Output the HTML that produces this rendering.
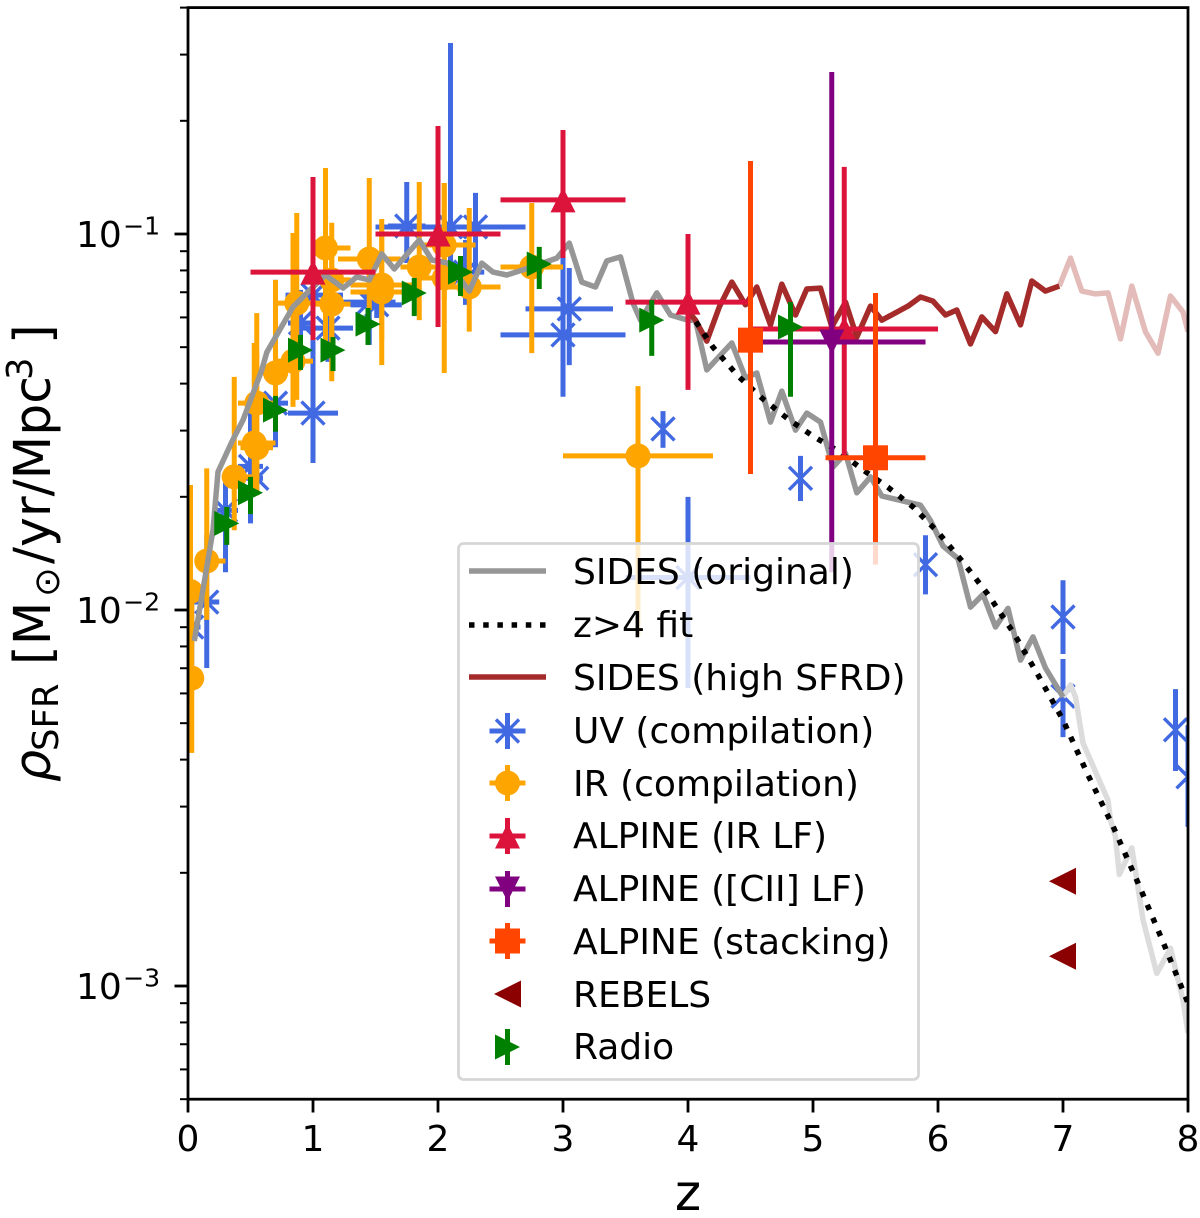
<!DOCTYPE html>
<html lang="en">
<head>
<meta charset="utf-8">
<title>Cosmic star formation rate density</title>
<style>
html,body{margin:0;padding:0;background:#fff}
svg{display:block}
text{font-family:"DejaVu Sans","Liberation Sans",sans-serif;fill:#000}
</style>
</head>
<body>
<svg id="chart" xmlns="http://www.w3.org/2000/svg" width="1200" height="1218" viewBox="0 0 1200 1218">
  <defs><clipPath id="plot-clip"><rect x="188" y="7.6" width="1000" height="1091.6"/></clipPath></defs>
  <rect width="1200" height="1218" fill="#fff"/>
  <g id="marks" clip-path="url(#plot-clip)"></g>
  <g id="legend">
    <rect x="458.5" y="543.5" width="460" height="536" rx="5" fill="#fff" fill-opacity="0.8" stroke="#d6d6d6" stroke-width="2.8"/>
    <g>
      <line x1="469" x2="546" y1="571" y2="571" stroke="#969696" stroke-width="5.5"/>
      <text x="573" y="584" font-size="36">SIDES (original)</text>
    </g>
    <g>
      <line x1="469" x2="546" y1="625" y2="625" stroke="#000" stroke-width="5.5" stroke-dasharray="5.5 8.7"/>
      <text x="573" y="637" font-size="36">z&gt;4 fit</text>
    </g>
    <g>
      <line x1="469" x2="546" y1="677" y2="677" stroke="#a52a2a" stroke-width="5.5"/>
      <text x="573" y="690" font-size="36">SIDES (high SFRD)</text>
    </g>
    <g stroke="#4169e1">
      <path d="M489.5 731H525.5M507.5 713V749" stroke-width="5" fill="none"/>
      <path d="M496 719.5L519 742.5M519 719.5L496 742.5" stroke-width="3.4" fill="none"/>
      <text x="573" y="743" font-size="36" stroke="none">UV (compilation)</text>
    </g>
    <g>
      <path d="M489.5 783H525.5M507.5 765V801" stroke="#ffa500" stroke-width="5" fill="none"/>
      <circle cx="507.5" cy="783" r="12.5" fill="#ffa500"/>
      <text x="573" y="796" font-size="36">IR (compilation)</text>
    </g>
    <g>
      <path d="M489.5 836H525.5M507.5 818V854" stroke="#dc143c" stroke-width="5" fill="none"/>
      <path d="M507.5 823.5L520 848.5H495Z" fill="#dc143c"/>
      <text x="573" y="848" font-size="36">ALPINE (IR LF)</text>
    </g>
    <g>
      <path d="M489.5 889H525.5M507.5 871V907" stroke="#800080" stroke-width="5" fill="none"/>
      <path d="M507.5 901.5L520 876.5H495Z" fill="#800080"/>
      <text x="573" y="901" font-size="36">ALPINE ([CII] LF)</text>
    </g>
    <g>
      <path d="M489.5 941H525.5M507.5 923V959" stroke="#ff4500" stroke-width="5" fill="none"/>
      <rect x="495" y="928.5" width="25" height="25" fill="#ff4500"/>
      <text x="573" y="954" font-size="36">ALPINE (stacking)</text>
    </g>
    <g>
      <path d="M494 994L521 980.5V1007.5Z" fill="#8b0000"/>
      <text x="573" y="1007" font-size="36">REBELS</text>
    </g>
    <g>
      <path d="M507.5 1029V1065" stroke="#008000" stroke-width="5" fill="none"/>
      <path d="M520 1047L495 1034.5V1059.5Z" fill="#008000"/>
      <text x="573" y="1059" font-size="36">Radio</text>
    </g>
  </g>
  <g id="axes"></g>
  <rect x="188" y="7.6" width="1000" height="1091.6" fill="none" stroke="#000" stroke-width="2.8"/>
  <text x="688" y="1210" font-size="50" text-anchor="middle">z</text>
  <text transform="translate(50,782) rotate(-90)" font-size="50.5"><tspan x="0" y="0" font-style="italic">ρ</tspan><tspan x="31" y="8" font-size="35.4">SFR</tspan><tspan x="117" y="0">[M</tspan><tspan x="185" y="9" font-size="35.4">⊙</tspan><tspan x="218" y="0">/yr/Mpc</tspan><tspan x="402" y="-18" font-size="35.4">3</tspan><tspan x="438" y="0">]</tspan></text>
</svg>
<script>
// ---------- axis tick data ----------
const xTicks = [0, 1, 2, 3, 4, 5, 6, 7, 8];
const yMajorExponents = [-1, -2, -3];
const yMinorTicks = [0.4, 0.3, 0.2, 0.09, 0.08, 0.07, 0.06, 0.05, 0.04, 0.03, 0.02, 0.009, 0.008, 0.007, 0.006, 0.005, 0.004, 0.003, 0.002, 0.0009, 0.0008, 0.0007, 0.0006, 0.0005];

// ---------- SIDES (original) ----------
const sidesZ = [0.05,0.2,0.24,0.35,0.44,0.59,0.63,0.84,1.0,1.1,1.24,1.35,1.45,1.55,1.65,1.85,1.95,2.08,2.25,2.35,2.44,2.55,2.75,2.95,3.05,3.15,3.26,3.35,3.46,3.56,3.62,3.75,3.86,4.0,4.06,4.15,4.35,4.46,4.55,4.66,4.75,4.86,4.95,5.06,5.16,5.26,5.35,5.46,5.55,5.86,5.94,6.04,6.16,6.26,6.36,6.46,6.56,6.66,6.76,6.86,7.0,7.06,7.1,7.16,7.36,7.38,7.42,7.45,7.55,7.64,7.75,7.86,7.96,8.0];
const sidesSfrd = [0.00827,0.0163,0.0233,0.0280,0.0320,0.0435,0.0485,0.0640,0.0723,0.0778,0.0718,0.0769,0.0755,0.0885,0.0807,0.0964,0.0853,0.0837,0.0705,0.0837,0.0792,0.0778,0.0817,0.0863,0.0946,0.0745,0.0723,0.0848,0.0869,0.0655,0.0590,0.0697,0.0609,0.0590,0.0590,0.0435,0.0513,0.0414,0.0427,0.0316,0.0382,0.0301,0.0334,0.0316,0.0240,0.0261,0.0205,0.0226,0.0201,0.0190,0.0173,0.0148,0.0137,0.01018,0.0110,0.00901,0.0101,0.00736,0.00848,0.00701,0.00587,0.00632,0.00587,0.00443,0.00312,0.00276,0.00249,0.00198,0.00233,0.00150,0.00108,0.00126,0.000918,0.000750];

// ---------- z>4 fit ----------
const fitZ = [4.0,4.2,4.4,4.6,4.8,5.0,5.2,5.4,5.6,5.8,6.0,6.2,6.4,6.6,6.8,7.0,7.2,7.4,7.6,7.8,8.0];
const fitSfrd = [0.0628,0.0500,0.0419,0.0364,0.0322,0.0290,0.0265,0.0236,0.0212,0.0188,0.0161,0.0134,0.0110,0.00874,0.00672,0.00510,0.00364,0.00266,0.00188,0.00131,0.000901];

// ---------- SIDES (high SFRD) ----------
const highZ = [4.0,4.06,4.15,4.25,4.35,4.46,4.55,4.66,4.75,4.86,4.95,5.06,5.15,5.26,5.35,5.46,5.55,5.76,5.86,5.96,6.06,6.15,6.26,6.35,6.46,6.55,6.66,6.75,6.86,6.97,7.06,7.15,7.26,7.36,7.46,7.55,7.66,7.76,7.86,7.96,8.0];
const highSfrd = [0.0624,0.0590,0.0519,0.0640,0.0745,0.0648,0.0723,0.0573,0.0736,0.0609,0.0714,0.0718,0.0566,0.0659,0.0532,0.0643,0.0590,0.0643,0.0680,0.0663,0.0609,0.0628,0.0510,0.0602,0.0550,0.0693,0.0573,0.0750,0.0705,0.0727,0.0863,0.0705,0.0693,0.0697,0.0526,0.0727,0.0549,0.0482,0.0684,0.0620,0.0550];

// ---------- UV (compilation) ----------
const uvZ = [0.03,0.15,0.3,0.5,0.55,0.7,1.0,0.9,1.12,1.0,1.45,1.75,2.1,2.3,2.22,1.51,3.0,3.05,3.8,4.0,4.9,5.9,7.0,7.0,7.9,8.0];
const uvSfrd = [0.00901,0.0105,0.0184,0.0241,0.0224,0.0355,0.0334,0.0580,0.0562,0.0688,0.0659,0.105,0.1044,0.1044,0.0792,0.0648,0.0539,0.0632,0.0303,0.0122,0.0224,0.0132,0.00958,0.00590,0.00480,0.00360];
const uvZLow = [0,0.05,0.2,0.4,0.46,0.6,0.8,0.8,0.9,0.78,1.1,1.6,1.5,2.1,2.06,1.3,2.5,2.7,3.8,3.5,4.9,5.9,7.0,7.0,7.9,8.0];
const uvZHigh = [0.1,0.25,0.4,0.6,0.6,0.8,1.2,1.0,1.32,1.24,1.66,1.9,2.7,2.5,2.37,1.71,3.5,3.4,3.8,4.5,4.9,5.9,7.0,7.0,7.9,8.0];
const uvSfrdLow = [0.00714,0.00701,0.0126,0.0170,0.0208,0.0271,0.0246,0.0462,0.0457,0.0522,0.0507,0.0837,0.0788,0.0788,0.0648,0.0598,0.0369,0.0448,0.0270,0.00620,0.0195,0.0110,0.00764,0.00459,0.00373,0.00265];
const uvSfrdHigh = [0.0113,0.0158,0.0218,0.0334,0.0243,0.0755,0.0522,0.0710,0.0667,0.0853,0.0812,0.1375,0.322,0.1286,0.0964,0.0732,0.0863,0.0812,0.0338,0.0200,0.0257,0.0158,0.0120,0.00741,0.00616,0.00494];

// ---------- IR (compilation) ----------
const irZ = [0.03,0.02,0.15,0.37,0.53,0.55,0.55,0.7,0.84,0.87,1.1,1.15,1.15,1.45,1.55,1.55,1.85,2.05,2.05,2.25,2.75,3.6];
const irSfrd = [0.00659,0.0112,0.0135,0.0226,0.0278,0.0270,0.0355,0.0427,0.0459,0.0655,0.0918,0.0755,0.0651,0.0858,0.0701,0.0732,0.0817,0.0935,0.0764,0.0723,0.0817,0.0257];
const irZLow = [0,0,0.06,0.27,0.4,0.42,0.4,0.6,0.7,0.72,1.0,1.0,1.0,1.2,1.3,1.3,1.7,1.8,1.8,2.0,2.5,3.0];
const irZHigh = [0.1,0.1,0.3,0.51,0.7,0.68,0.7,0.8,1.0,1.07,1.3,1.3,1.3,1.7,1.85,1.85,2.1,2.3,2.3,2.5,3.0,4.2];
const irSfrdLow = [0.00417,0.00576,0.00941,0.0163,0.0208,0.0202,0.0222,0.0301,0.0347,0.0362,0.0485,0.0522,0.0406,0.0628,0.0448,0.0522,0.0590,0.0667,0.0427,0.0550,0.0482,0.00858];
const irSfrdHigh = [0.0106,0.0215,0.0238,0.0417,0.0513,0.0616,0.0491,0.0755,0.1006,0.1137,0.1498,0.1071,0.0964,0.1409,0.1096,0.0994,0.1375,0.1367,0.1367,0.1173,0.1209,0.0394];

// ---------- ALPINE (IR LF) ----------
const alpineIrZ = [1,2,3,4,5.25];
const alpineIrSfrd = [0.0792,0.1,0.1232,0.0659,0.0559];
const alpineIrZLow = [0.5,1.5,2.5,3.5,4.5];
const alpineIrZHigh = [1.5,2.5,3.5,4.5,6.0];
const alpineIrSfrdLow = [0.0522,0.0566,0.0863,0.0385,0.0255];
const alpineIrSfrdHigh = [0.1418,0.1938,0.1891,0.1,0.1508];

// ---------- ALPINE ([CII] LF) ----------
const alpineCiiZ = [5.15];
const alpineCiiSfrd = [0.0516];
const alpineCiiZLow = [4.5];
const alpineCiiZHigh = [5.9];
const alpineCiiSfrdLow = [0.0126];
const alpineCiiSfrdHigh = [0.2697];

// ---------- ALPINE (stacking) ----------
const stackZ = [4.5,5.5];
const stackSfrd = [0.0522,0.0254];
const stackZLow = [4.5,5.1];
const stackZHigh = [4.5,5.9];
const stackSfrdLow = [0.0230,0.0132];
const stackSfrdHigh = [0.1564,0.0697];

// ---------- REBELS ----------
const rebelsZ = [7,7];
const rebelsSfrd = [0.00190,0.00120];

// ---------- Radio ----------
const radioZ = [0.31,0.5,0.7,0.9,1.16,1.44,1.81,2.18,2.81,3.71,4.82];
const radioSfrd = [0.0170,0.0205,0.0340,0.0491,0.0491,0.0576,0.0697,0.0792,0.0832,0.0590,0.0566];
const radioSfrdLow = [0.0149,0.0180,0.0298,0.0435,0.0432,0.0507,0.0605,0.0684,0.0714,0.0474,0.0369];
const radioSfrdHigh = [0.0188,0.0226,0.0371,0.0539,0.0532,0.0636,0.0764,0.0874,0.0924,0.0667,0.0659];

// ---------- axis functions ----------
const NS = 'http://www.w3.org/2000/svg';
const X = z => 188 + 125 * z;
const Y = v => 234 - 376 * (Math.log10(v) + 1);

const marks = document.getElementById('marks');
const axes = document.getElementById('axes');

function svgEl(tag, parent, attrs) {
  const el = document.createElementNS(NS, tag);
  for (const k in attrs) el.setAttribute(k, attrs[k]);
  parent.appendChild(el);
  return el;
}

function polyline(zs, vs, keep, stroke, width, name, dash) {
  const pts = [];
  zs.forEach((z, i) => { if (keep(z)) pts.push(X(z).toFixed(1) + ',' + Y(vs[i]).toFixed(1)); });
  const attrs = { points: pts.join(' '), fill: 'none', stroke: stroke, 'stroke-width': width, 'stroke-linejoin': 'round' };
  if (dash) attrs['stroke-dasharray'] = dash;
  const el = svgEl('polyline', marks, attrs);
  
  
  return el;
}

function marker(parent, kind, cx, cy, color, name) {
  let el;
  if (kind === 'x') {
    const a = 11.5;
    el = svgEl('path', parent, { d: `M${cx-a} ${cy-a}L${cx+a} ${cy+a}M${cx+a} ${cy-a}L${cx-a} ${cy+a}`, stroke: color, 'stroke-width': 3.4, fill: 'none' });
  } else if (kind === 'o') {
    el = svgEl('circle', parent, { cx: cx, cy: cy, r: 12.5, fill: color });
  } else if (kind === '^') {
    el = svgEl('path', parent, { d: `M${cx} ${cy-12.5}L${cx+12.5} ${cy+12.5}H${cx-12.5}Z`, fill: color });
  } else if (kind === 'v') {
    el = svgEl('path', parent, { d: `M${cx} ${cy+12.5}L${cx+12.5} ${cy-12.5}H${cx-12.5}Z`, fill: color });
  } else if (kind === 's') {
    el = svgEl('rect', parent, { x: cx-12.5, y: cy-12.5, width: 25, height: 25, fill: color });
  } else if (kind === '<') {
    el = svgEl('path', parent, { d: `M${cx-14} ${cy}L${cx+13} ${cy-13.5}V${cy+13.5}Z`, fill: color });
  } else {
    el = svgEl('path', parent, { d: `M${cx+12.5} ${cy}L${cx-12.5} ${cy-12.5}V${cy+12.5}Z`, fill: color });
  }
  
  
}

function errorSeries(name, kind, color, zs, vs, zLo, zHi, vLo, vHi) {
  const g = svgEl('g', marks, {});
  
  
  zs.forEach((z, i) => {
    if (zLo && zLo[i] !== zHi[i]) {
      const h = svgEl('line', g, { x1: X(zLo[i]), x2: X(zHi[i]), y1: Y(vs[i]), y2: Y(vs[i]), stroke: color, 'stroke-width': 5 });
      
      
    }
    if (vLo) {
      const v = svgEl('line', g, { x1: X(z), x2: X(z), y1: Y(vLo[i]), y2: Y(vHi[i]), stroke: color, 'stroke-width': 5 });
      
      
    }
  });
  zs.forEach((z, i) => marker(g, kind, X(z), Y(vs[i]), color, name + '-point'));
}

// ---------- draw series, bottom to top ----------
errorSeries('uv', 'x', '#4169e1', uvZ, uvSfrd, uvZLow, uvZHigh, uvSfrdLow, uvSfrdHigh);
errorSeries('ir', 'o', '#ffa500', irZ, irSfrd, irZLow, irZHigh, irSfrdLow, irSfrdHigh);
polyline(sidesZ, sidesSfrd, z => z >= 7, '#dcdcdc', 5.5, 'sides-original-line-extrapolated');
polyline(sidesZ, sidesSfrd, z => z <= 7, '#969696', 5.5, 'sides-original-line');
polyline(highZ, highSfrd, z => z >= 6.97, '#e3bcba', 5.5, 'sides-high-line-extrapolated');
polyline(highZ, highSfrd, z => z <= 6.97, '#a52a2a', 5.5, 'sides-high-line');
polyline(fitZ, fitSfrd, z => true, '#000', 5.5, 'fit-line', '5.5 8.7');
errorSeries('alpine-ir', '^', '#dc143c', alpineIrZ, alpineIrSfrd, alpineIrZLow, alpineIrZHigh, alpineIrSfrdLow, alpineIrSfrdHigh);
errorSeries('alpine-cii', 'v', '#800080', alpineCiiZ, alpineCiiSfrd, alpineCiiZLow, alpineCiiZHigh, alpineCiiSfrdLow, alpineCiiSfrdHigh);
errorSeries('alpine-stacking', 's', '#ff4500', stackZ, stackSfrd, stackZLow, stackZHigh, stackSfrdLow, stackSfrdHigh);
errorSeries('rebels', '<', '#8b0000', rebelsZ, rebelsSfrd);
errorSeries('radio', '>', '#008000', radioZ, radioSfrd, null, null, radioSfrdLow, radioSfrdHigh);

// ---------- axes ----------
xTicks.forEach(t => {
  const tick = svgEl('line', axes, { x1: X(t), x2: X(t), y1: 1099.2, y2: 1112.5, stroke: '#000', 'stroke-width': 2.8 });
  
  
  const label = svgEl('text', axes, { x: X(t), y: 1151, 'font-size': 36, 'text-anchor': 'middle' });
  label.textContent = String(t);
  
  
});
yMajorExponents.forEach(e => {
  const y = Y(Math.pow(10, e));
  const tick = svgEl('line', axes, { x1: 174.5, x2: 188, y1: y, y2: y, stroke: '#000', 'stroke-width': 2.8 });
  
  
  const label = svgEl('text', axes, { x: 76, y: y + 13, 'font-size': 36 });
  
  
  label.appendChild(document.createTextNode('10'));
  const sup = svgEl('tspan', label, { x: 123, y: y + 0.5, 'font-size': 25.2 });
  sup.textContent = '\u2212' + Math.abs(e);
});
yMinorTicks.forEach(v => {
  const tick = svgEl('line', axes, { x1: 180, x2: 188, y1: Y(v), y2: Y(v), stroke: '#000', 'stroke-width': 2 });
  
  
});
</script>
</body>
</html>
